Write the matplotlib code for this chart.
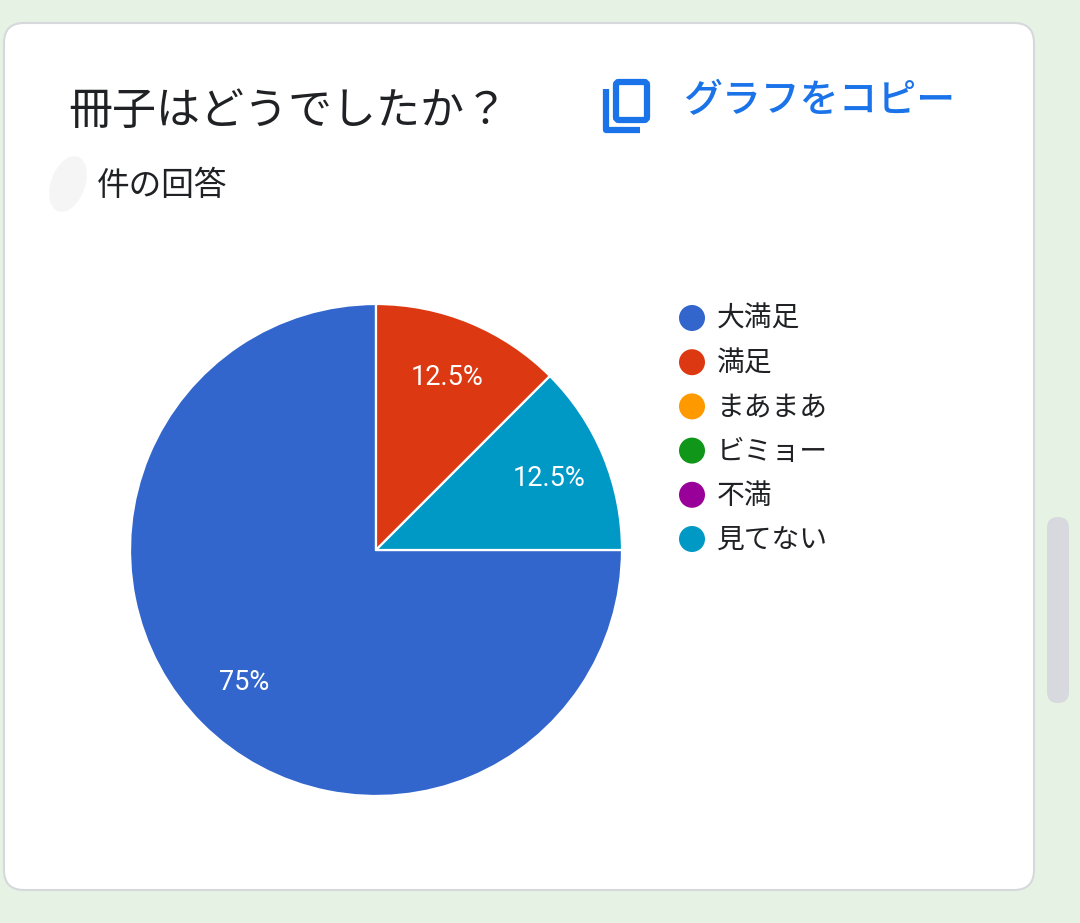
import matplotlib
matplotlib.use("Agg")
import matplotlib.pyplot as plt
from matplotlib.patches import FancyBboxPatch, Circle, Ellipse
from matplotlib.lines import Line2D

# ---- data ----
categories = ["大満足", "満足", "まあまあ", "ビミョー", "不満", "見てない"]
values = [6, 1, 0, 0, 0, 1]
colors = ["#3366cc", "#dc3912", "#ff9900", "#109618", "#990099", "#0099c6"]
title = "冊子はどうでしたか？"
subtitle = "件の回答"
copy_label = "グラフをコピー"

W, H = 1080, 923
plt.rcParams['font.family'] = ['Noto Sans CJK JP', 'DejaVu Sans']
fig = plt.figure(figsize=(W / 100, H / 100), dpi=100)
fig.patch.set_facecolor("#e6f2e4")

# background / card axes in pixel coordinates
bg = fig.add_axes([0, 0, 1, 1])
bg.set_xlim(0, W)
bg.set_ylim(H, 0)
bg.axis("off")

card = FancyBboxPatch((4, 23), 1030, 867, boxstyle="round,pad=0,rounding_size=20",
                      facecolor="white", edgecolor="#d6d9dc", linewidth=1.5)
bg.add_patch(card)

# scrollbar
sb = FancyBboxPatch((1047, 517), 22, 186, boxstyle="round,pad=0,rounding_size=11",
                    facecolor="#d7d9de", edgecolor="none")
bg.add_patch(sb)

# title
bg.text(68, 111, title, fontsize=31.7, color="#202124", va="center", ha="left")
# redaction smudge
bg.add_patch(Ellipse((68, 184), 34, 58, angle=20, facecolor="#f5f5f5", edgecolor="none"))
bg.text(97, 186, subtitle, fontsize=23.5, color="#202124", va="center", ha="left")

# copy icon
blue = "#1a73e8"
bg.add_patch(FancyBboxPatch((616, 82), 31, 38, boxstyle="round,pad=0,rounding_size=3",
                            facecolor="none", edgecolor=blue, linewidth=4.5))
bg.add_line(Line2D([606, 606, 640], [89, 130, 130], color=blue, linewidth=4.5,
                   solid_capstyle="butt", solid_joinstyle="round"))
bg.text(683, 101, copy_label, fontsize=28, color=blue, va="center", ha="left",
        fontweight="medium")

# legend
leg_x, leg_y0, leg_dy = 692, 318, 44.2
for i, (cat, col) in enumerate(zip(categories, colors)):
    y = leg_y0 + i * leg_dy
    bg.add_patch(Circle((leg_x, y), 13, facecolor=col, edgecolor="none"))
    bg.text(717, y + 1, cat, fontsize=20, color="#202124", va="center", ha="left")

# pie
cx, cy, r = 376, 550, 246
ax = fig.add_axes([(cx - r) / W, (H - cy - r) / H, 2 * r / W, 2 * r / H])
nz = [(v, c) for v, c in zip(values, colors) if v > 0]
pv = [v for v, _ in nz]
pc = [c for _, c in nz]
wedges, texts, autotexts = ax.pie(
    pv, colors=pc, startangle=0, counterclock=False,
    autopct=lambda p: f"{p:g}%", pctdistance=0.76,
    wedgeprops=dict(edgecolor="white", linewidth=1.6),
    textprops=dict(color="white", fontsize=19.5, family=["Roboto", "DejaVu Sans"]))
ax.set_xlim(-1, 1)
ax.set_ylim(-1, 1)
ax.set_aspect("equal")
ax.axis("off")

fig.savefig("out.png", dpi=100, facecolor=fig.get_facecolor())
